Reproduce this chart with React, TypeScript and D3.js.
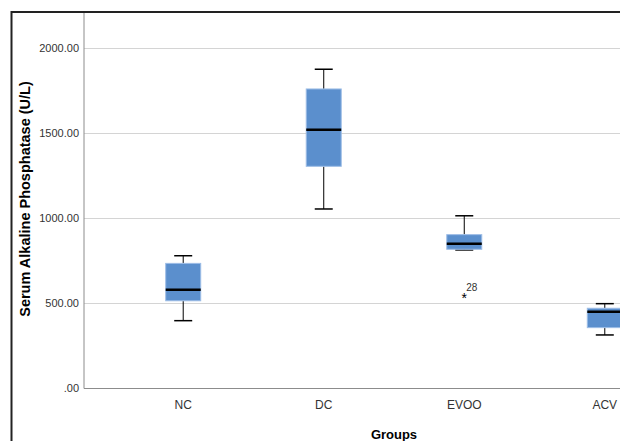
import React, { useEffect, useRef } from "react";
import * as d3 from "d3";

// groups and box statistics (U/L)
const groups = ["NC", "DC", "EVOO", "ACV"];
const whiskerLow = [399, 1056, 815, 315];
const q1 = [516, 1307, 819, 358];
const median = [581, 1522, 852, 452];
const q3 = [736, 1762, 905, 472];
const whiskerHigh = [781, 1878, 1016, 499];
const outliers = [{ group: "EVOO", value: 540, label: "28" }];
const yTicks = [0, 500, 1000, 1500, 2000];

const W = 620;
const H = 441;

const App = () => {
  const svgRef = useRef<SVGSVGElement>(null);

  useEffect(() => {
    const svg = d3.select(svgRef.current);
    svg.selectAll("*").remove();

    const left = 84;
    const bottom = 388.5;
    const top = 12;

    const y = d3.scaleLinear().domain([0, 2000]).range([bottom, 48.5]);
    const x = d3.scalePoint().domain(groups).range([left, 704]).padding(0.706);

    const boxW = 35;
    const capW = 18;
    const font = "'Liberation Sans', Arial, sans-serif";

    // grid lines
    svg.append("g")
      .selectAll("line")
      .data(yTicks.filter((d) => d > 0))
      .enter()
      .append("line")
      .attr("x1", left)
      .attr("x2", W)
      .attr("y1", (d) => y(d))
      .attr("y2", (d) => y(d))
      .attr("stroke", "#d4d4d4")
      .attr("stroke-width", 1);

    // axes lines
    svg.append("line")
      .attr("x1", left).attr("x2", left)
      .attr("y1", top).attr("y2", bottom)
      .attr("stroke", "#8c8c8c").attr("stroke-width", 1);
    svg.append("line")
      .attr("x1", left).attr("x2", W)
      .attr("y1", bottom).attr("y2", bottom)
      .attr("stroke", "#8c8c8c").attr("stroke-width", 1);

    // y tick labels
    svg.append("g")
      .selectAll("text")
      .data(yTicks)
      .enter()
      .append("text")
      .attr("x", 79)
      .attr("y", (d) => y(d))
      .attr("dy", "0.35em")
      .attr("text-anchor", "end")
      .attr("font-family", font)
      .attr("font-size", 11)
      .attr("fill", "#333")
      .text((d) => (d === 0 ? ".00" : d3.format(".2f")(d)));

    // x tick labels
    svg.append("g")
      .selectAll("text")
      .data(groups)
      .enter()
      .append("text")
      .attr("x", (d) => x(d) as number)
      .attr("y", 405)
      .attr("dy", "0.35em")
      .attr("text-anchor", "middle")
      .attr("font-family", font)
      .attr("font-size", 12)
      .attr("fill", "#333")
      .text((d) => d);

    // boxes
    const g = svg.append("g");
    groups.forEach((grp, i) => {
      const cx = x(grp) as number;
      // whiskers
      g.append("line")
        .attr("x1", cx).attr("x2", cx)
        .attr("y1", y(whiskerHigh[i])).attr("y2", y(q3[i]))
        .attr("stroke", "#000").attr("stroke-width", 1);
      g.append("line")
        .attr("x1", cx).attr("x2", cx)
        .attr("y1", y(q1[i])).attr("y2", y(whiskerLow[i]))
        .attr("stroke", "#000").attr("stroke-width", 1);
      [whiskerHigh[i], whiskerLow[i]].forEach((v) => {
        g.append("line")
          .attr("x1", cx - capW / 2).attr("x2", cx + capW / 2)
          .attr("y1", y(v)).attr("y2", y(v))
          .attr("stroke", "#000").attr("stroke-width", 1.5);
      });
      g.append("rect")
        .attr("x", cx - boxW / 2)
        .attr("y", y(q3[i]))
        .attr("width", boxW)
        .attr("height", y(q1[i]) - y(q3[i]))
        .attr("fill", "#5b8fcd")
        .attr("stroke", "#9dbde6")
        .attr("stroke-width", 1);
      g.append("line")
        .attr("x1", cx - boxW / 2).attr("x2", cx + boxW / 2)
        .attr("y1", y(median[i])).attr("y2", y(median[i]))
        .attr("stroke", "#000").attr("stroke-width", 2.5);
    });

    // outliers
    outliers.forEach((o) => {
      const cx = x(o.group) as number;
      g.append("text")
        .attr("x", cx)
        .attr("y", y(o.value) + 6)
        .attr("text-anchor", "middle")
        .attr("font-family", font)
        .attr("font-size", 14)
        .attr("fill", "#000")
        .text("*");
      g.append("text")
        .attr("x", cx + 2)
        .attr("y", y(o.value) - 6)
        .attr("font-family", font)
        .attr("font-size", 10)
        .attr("fill", "#333")
        .text(o.label);
    });

    // axis titles
    svg.append("text")
      .attr("transform", `translate(25, 199) rotate(-90)`)
      .attr("text-anchor", "middle")
      .attr("dy", "0.35em")
      .attr("font-family", font)
      .attr("font-size", 14.5)
      .attr("font-weight", "bold")
      .attr("fill", "#000")
      .text("Serum Alkaline Phosphatase (U/L)");
    svg.append("text")
      .attr("x", 394)
      .attr("y", 434)
      .attr("dy", "0.35em")
      .attr("text-anchor", "middle")
      .attr("font-family", font)
      .attr("font-size", 13)
      .attr("font-weight", "bold")
      .attr("fill", "#000")
      .text("Groups");

    // outer frame
    svg.append("path")
      .attr("d", `M11.5,${H}V12H${W}`)
      .attr("fill", "none")
      .attr("stroke", "#222")
      .attr("stroke-width", 2);
  }, []);

  return (
    <svg
      ref={svgRef}
      width={W}
      height={H}
      style={{ position: "absolute", left: 0, top: 0, background: "#fff" }}
    ></svg>
  );
};

export default App;
